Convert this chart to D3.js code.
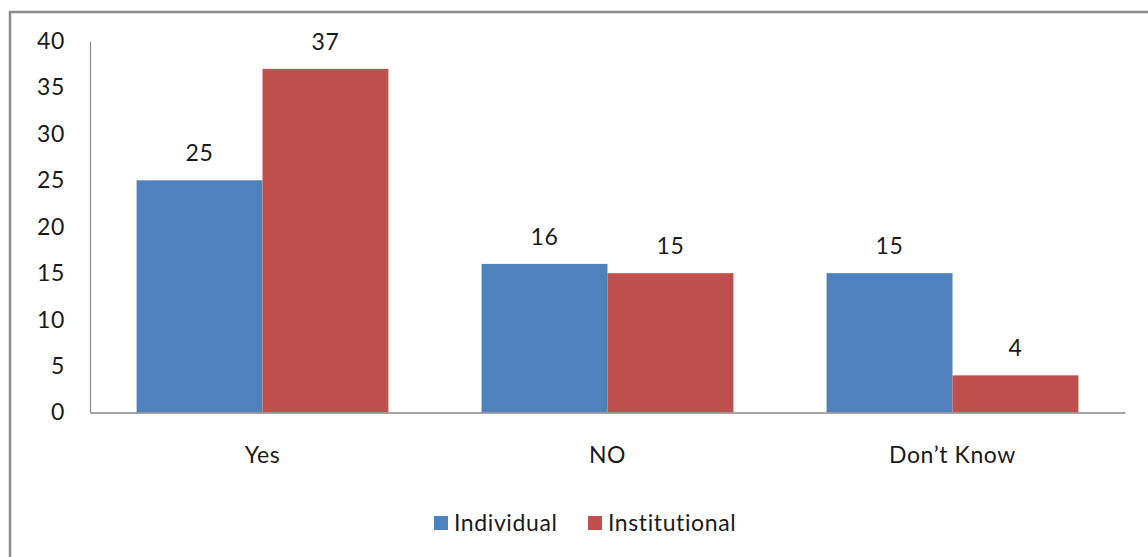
<!DOCTYPE html>
<html>
<head>
<meta charset="utf-8">
<script src="https://cdn.jsdelivr.net/npm/d3@7"></script>
<style>
  html, body { margin: 0; padding: 0; background: #fff; }
  svg { display: block; font-family: Lato, "Open Sans", sans-serif; }
  svg text { letter-spacing: 0.6px; }
</style>
</head>
<body>
<svg id="chart" width="1148" height="557"></svg>
<script>
// Survey responses by respondent type
const categories = ["Yes", "NO", "Don\u2019t Know"];
const seriesNames = ["Individual", "Institutional"];
const individual = [25, 16, 15];
const institutional = [37, 15, 4];
const yTicks = [0, 5, 10, 15, 20, 25, 30, 35, 40];
const colors = ["#4F81BD", "#C0504D"];

const series = [individual, institutional];
const fontSize = 23;
const textColor = "#1a1a1a";

const svg = d3.select("#chart");

// Outer frame
svg.append("rect")
  .attr("x", 10).attr("y", 12)
  .attr("width", 1160).attr("height", 600)
  .attr("fill", "#fff")
  .attr("stroke", "#8c8c8c")
  .attr("stroke-width", 2.5);

const plotLeft = 90, plotRight = 1125, plotTop = 41, plotBottom = 412.5;

const x0 = d3.scaleBand().domain(categories).range([plotLeft, plotRight]).paddingInner(0).paddingOuter(0);
const inner = 0.73;
const x1 = d3.scaleBand().domain(seriesNames)
  .range([x0.bandwidth() * (1 - inner) / 2, x0.bandwidth() * (1 + inner) / 2]);
const y = d3.scaleLinear().domain([0, 40]).range([plotBottom, plotTop]);

// Bars with value labels
categories.forEach((c, i) => {
  seriesNames.forEach((s, j) => {
    const v = series[j][i];
    svg.append("rect")
      .attr("x", x0(c) + x1(s))
      .attr("y", y(v))
      .attr("width", x1.bandwidth())
      .attr("height", y(0) - y(v))
      .attr("fill", colors[j]);
    svg.append("text")
      .attr("x", x0(c) + x1(s) + x1.bandwidth() / 2)
      .attr("y", y(v) - 19)
      .attr("text-anchor", "middle")
      .attr("font-size", fontSize)
      .attr("fill", textColor)
      .text(v);
  });
});

// Y axis
const yAxis = d3.axisLeft(y).tickValues(yTicks).tickSize(0).tickPadding(25);
const gy = svg.append("g").attr("transform", `translate(${plotLeft},0)`).call(yAxis);
gy.select(".domain").attr("stroke", "#888").attr("stroke-width", 1.2);
gy.selectAll("text").attr("font-size", fontSize).attr("fill", textColor)
  .attr("font-family", "Lato, 'Open Sans', sans-serif");

// X axis
const xAxis = d3.axisBottom(x0).tickSize(0).tickPadding(34);
const gx = svg.append("g").attr("transform", `translate(0,${plotBottom})`).call(xAxis);
gx.select(".domain").attr("stroke", "#888").attr("stroke-width", 1.5);
gx.selectAll("text").attr("font-size", fontSize).attr("fill", textColor)
  .attr("font-family", "Lato, 'Open Sans', sans-serif");

// Legend
const legendX = [434, 588];
seriesNames.forEach((s, j) => {
  svg.append("rect")
    .attr("x", legendX[j]).attr("y", 516)
    .attr("width", 14).attr("height", 14)
    .attr("fill", colors[j]);
  svg.append("text")
    .attr("x", legendX[j] + 20).attr("y", 523)
    .attr("dy", "0.35em")
    .attr("font-size", fontSize)
    .attr("fill", textColor)
    .text(s);
});
</script>
</body>
</html>
